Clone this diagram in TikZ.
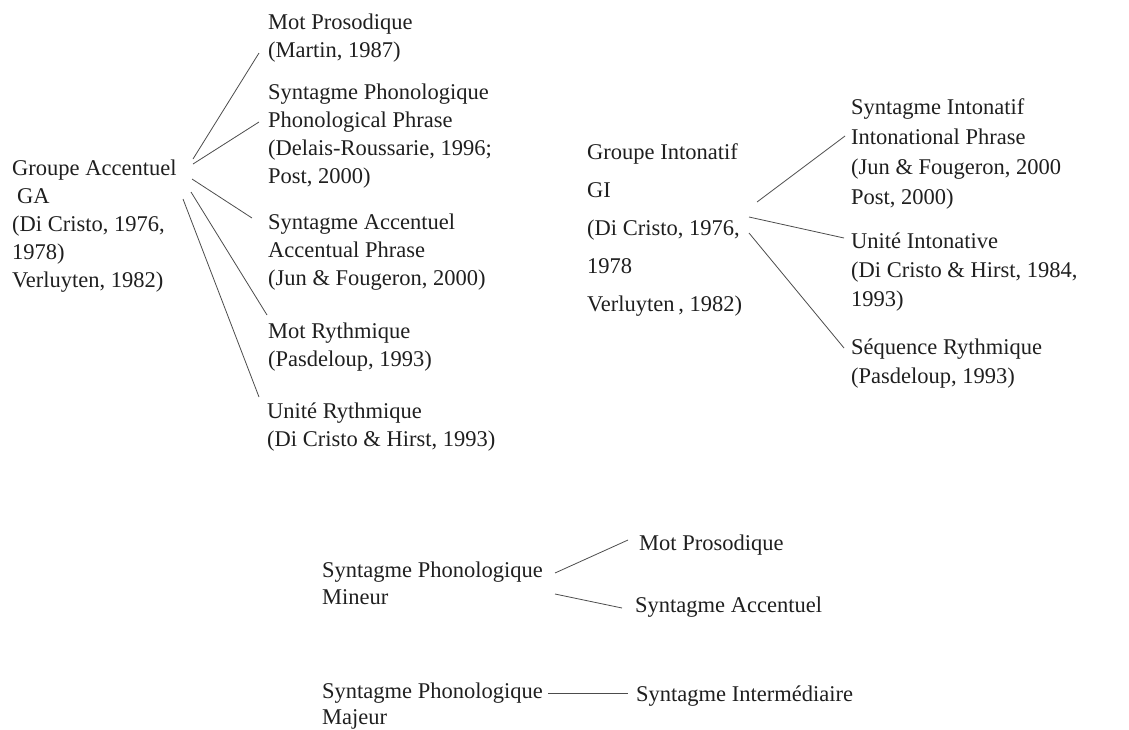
\documentclass[tikz,border=0pt]{standalone}
\usepackage{fontspec}
\setmainfont{Liberation Serif}
\begin{document}
\begin{tikzpicture}[x=1pt,y=-1pt,
  txt/.style={anchor=north west, inner sep=0pt, align=left, text=black!88,
    font=\fontsize{22.5}{28}\selectfont},
  wide/.style={font=\fontsize{22.5}{38}\selectfont},
  mid/.style={font=\fontsize{22.5}{30}\selectfont},
  link/.style={draw=black!70, line width=0.8pt}]
\useasboundingbox (0,0) rectangle (1129,729);
% ---- left tree
\node[txt] (GA) at (12,160) {Groupe Accentuel\\\hspace*{5pt}GA\\(Di Cristo, 1976,\\1978)\\Verluyten, 1982)};
\node[txt] (MP) at (268,14) {Mot Prosodique\\(Martin, 1987)};
\node[txt] (SP) at (268,84) {Syntagme Phonologique\\Phonological Phrase\\(Delais-Roussarie, 1996;\\Post, 2000)};
\node[txt] (SA) at (268,214) {Syntagme Accentuel\\Accentual Phrase\\(Jun \& Fougeron, 2000)};
\node[txt] (MR) at (268,323) {Mot Rythmique\\(Pasdeloup, 1993)};
\node[txt] (UR) at (267,403) {Unité Rythmique\\(Di Cristo \& Hirst, 1993)};
\coordinate (ga1) at (193,159); \coordinate (mp1) at (259,53);
\coordinate (ga2) at (193,164); \coordinate (sp1) at (259,122);
\coordinate (ga3) at (192,179); \coordinate (sa1) at (252,218);
\coordinate (ga4) at (191,192); \coordinate (mr1) at (267,315);
\coordinate (ga5) at (183,199); \coordinate (ur1) at (259,397);
\draw[link] (ga1) -- (mp1);
\draw[link] (ga2) -- (sp1);
\draw[link] (ga3) -- (sa1);
\draw[link] (ga4) -- (mr1);
\draw[link] (ga5) -- (ur1);
% ---- right tree
\node[txt,wide] (GI) at (587,143) {Groupe Intonatif\\GI\\(Di Cristo, 1976,\\1978\\Verluyten\,, 1982)};
\node[txt,mid] (SI) at (851,98) {Syntagme Intonatif\\Intonational Phrase\\(Jun \& Fougeron, 2000\\Post, 2000)};
\node[txt,font=\fontsize{22.5}{29}\selectfont] (UI) at (851,233) {Unité Intonative\\(Di Cristo \& Hirst, 1984,\\1993)};
\node[txt,font=\fontsize{22.5}{29}\selectfont] (SR) at (851,339) {Séquence Rythmique\\(Pasdeloup, 1993)};
\coordinate (gi1) at (757,202); \coordinate (si1) at (845,136);
\coordinate (gi2) at (749,217); \coordinate (ui1) at (844,238);
\coordinate (gi3) at (749,233); \coordinate (sr1) at (844,348);
\draw[link] (gi1) -- (si1);
\draw[link] (gi2) -- (ui1);
\draw[link] (gi3) -- (sr1);
% ---- bottom
\node[txt,font=\fontsize{22.5}{27}\selectfont] (SPmin) at (322,562) {Syntagme Phonologique\\Mineur};
\node[txt] (MP2) at (639,535) {Mot Prosodique};
\node[txt] (SA2) at (635,597) {Syntagme Accentuel};
\node[txt,font=\fontsize{22.5}{26}\selectfont] (SPmaj) at (322,683) {Syntagme Phonologique\\Majeur};
\node[txt] (SInt) at (636,686) {Syntagme Intermédiaire};
\coordinate (b1) at (555,573); \coordinate (b1e) at (628,540);
\coordinate (b2) at (555,594); \coordinate (b2e) at (622,608);
\coordinate (b3) at (548,693); \coordinate (b3e) at (628,693);
\draw[link] (b1) -- (b1e);
\draw[link] (b2) -- (b2e);
\draw[link] (b3) -- (b3e);
\end{tikzpicture}
\end{document}
